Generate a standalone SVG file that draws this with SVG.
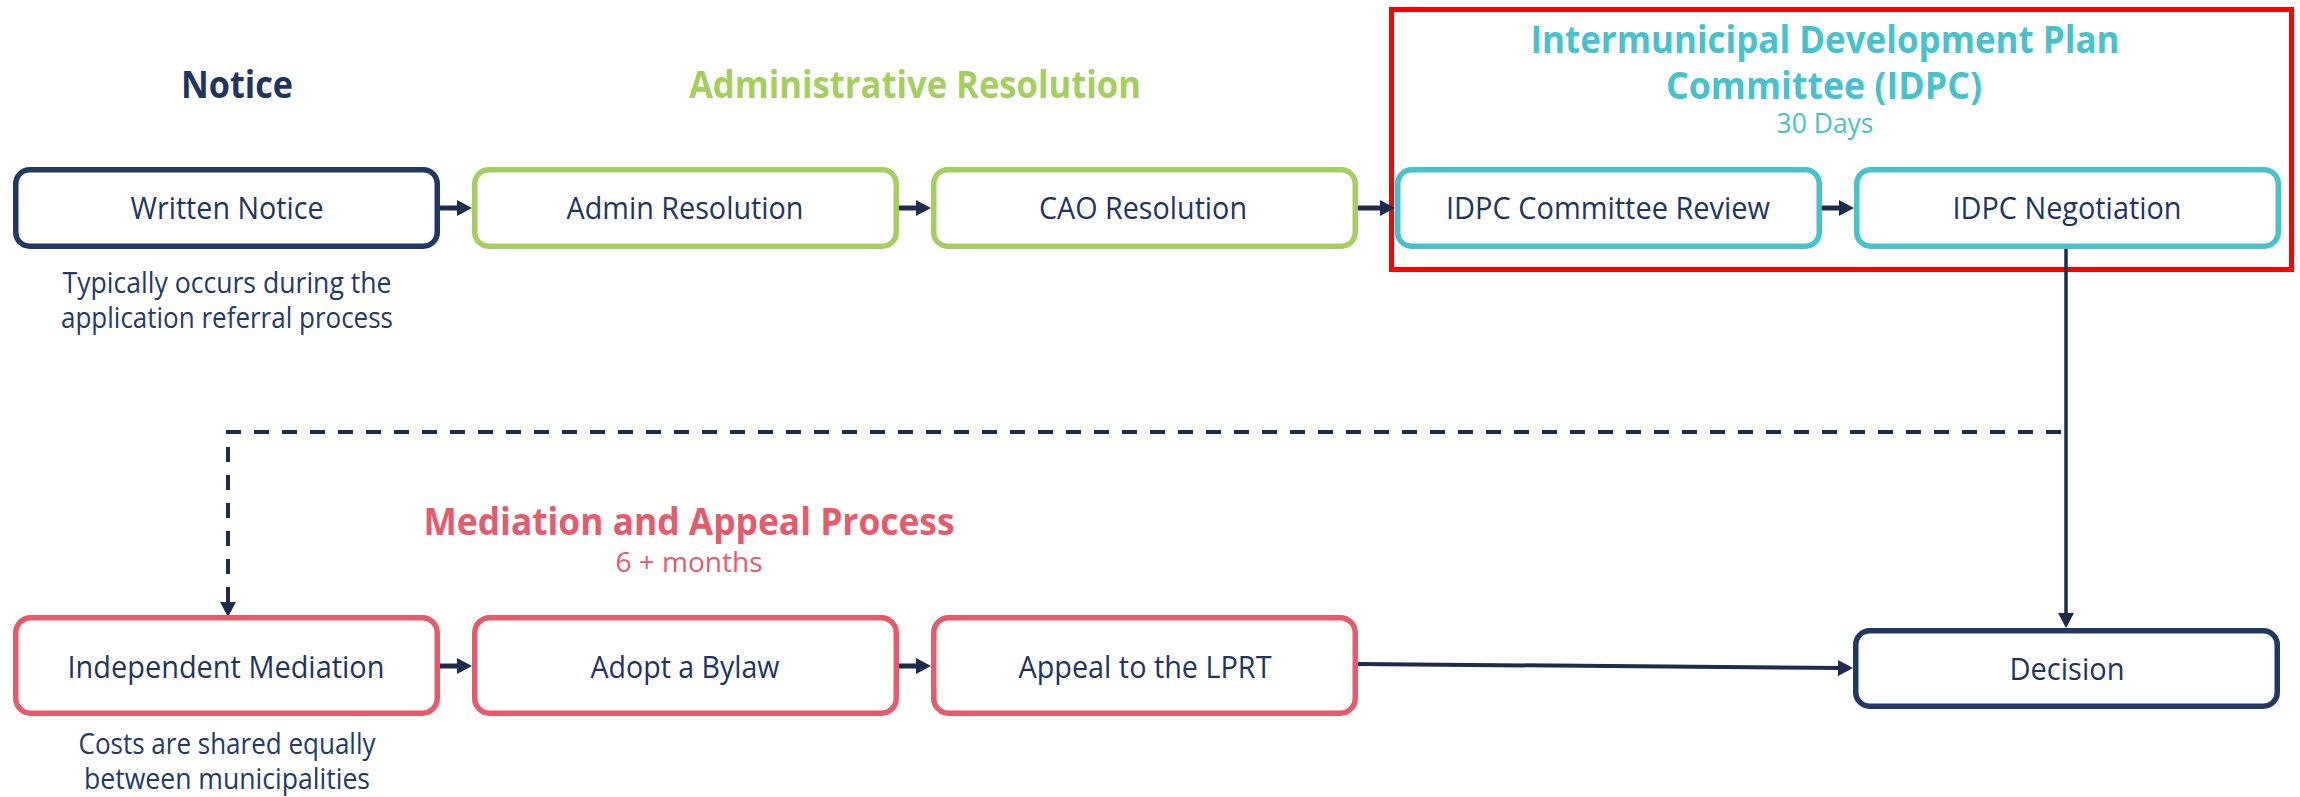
<svg xmlns="http://www.w3.org/2000/svg" width="2300" height="797" viewBox="0 0 2300 797">
<style>
.box{fill:#fff;stroke-width:5.5}
.navy{stroke:#203864}
.green{stroke:#A4CF5F}
.teal{stroke:#46C2CD}
.red{stroke:#E65A6B}
.lbl{font-family:"Open Sans","Liberation Sans",sans-serif;font-size:31px;fill:#1E3462;text-anchor:middle}
.sub{font-family:"Open Sans","Liberation Sans",sans-serif;font-size:29px;fill:#23396A;text-anchor:middle}
.hd{font-family:"Open Sans","Liberation Sans",sans-serif;font-size:37px;font-weight:bold;text-anchor:middle}
.sm{font-family:"Open Sans","Liberation Sans",sans-serif;text-anchor:middle}
.arr{stroke:#1D2B4C;fill:none}
</style>
<defs>
<marker id="ah" markerUnits="userSpaceOnUse" markerWidth="16" markerHeight="16" refX="5" refY="8" orient="auto">
<path d="M0,0 L15,8 L0,16 z" fill="#1D2B4C"/>
</marker>
</defs>

<rect x="1391.5" y="9.5" width="900" height="260" fill="none" stroke="#FF0000" stroke-width="5"/>

<g id="headings">
<text class="hd" x="237" y="98" fill="#1F3560" textLength="112" lengthAdjust="spacingAndGlyphs">Notice</text>
<text class="hd" x="915" y="98" fill="#A4CF5F" textLength="452" lengthAdjust="spacingAndGlyphs">Administrative Resolution</text>
<text class="hd" x="1825" y="53" fill="#46C2CD" textLength="589" lengthAdjust="spacingAndGlyphs">Intermunicipal Development Plan</text>
<text class="hd" x="1824" y="99" fill="#46C2CD" textLength="316" lengthAdjust="spacingAndGlyphs">Committee (IDPC)</text>
<text class="sm" x="1825" y="133" font-size="27" fill="#46C2CD" textLength="97" lengthAdjust="spacingAndGlyphs">30 Days</text>
<text class="hd" x="689" y="535" fill="#E65A6B" textLength="531" lengthAdjust="spacingAndGlyphs">Mediation and Appeal Process</text>
<text class="sm" x="689" y="572" font-size="27" fill="#E65A6B" textLength="147" lengthAdjust="spacingAndGlyphs">6 + months</text>
</g>

<g id="connectors">
<line class="arr" x1="440" y1="208" x2="462" y2="208" stroke-width="5" marker-end="url(#ah)"/>
<line class="arr" x1="899" y1="208" x2="921" y2="208" stroke-width="5" marker-end="url(#ah)"/>
<line class="arr" x1="1358" y1="208" x2="1385" y2="208" stroke-width="5" marker-end="url(#ah)"/>
<line class="arr" x1="1822" y1="208" x2="1844" y2="208" stroke-width="5" marker-end="url(#ah)"/>
<line class="arr" x1="440" y1="666" x2="462" y2="666" stroke-width="5" marker-end="url(#ah)"/>
<line class="arr" x1="899" y1="666" x2="921" y2="666" stroke-width="5" marker-end="url(#ah)"/>
<line class="arr" x1="1358" y1="664" x2="1843" y2="668" stroke-width="4" marker-end="url(#ah)"/>
<line class="arr" x1="2066" y1="249" x2="2066" y2="618" stroke-width="3.5" marker-end="url(#ah)"/>
<path class="arr" d="M2061,432 H228 V607" stroke-width="4" stroke-dasharray="15 13" marker-end="url(#ah)"/>
</g>

<g id="written-notice">
<rect class="box navy" x="15.75" y="169.75" width="421.5" height="76.5" rx="14"/>
<text class="lbl" x="227" y="219" textLength="193" lengthAdjust="spacingAndGlyphs">Written Notice</text>
<text class="sub" x="227" y="293" textLength="329" lengthAdjust="spacingAndGlyphs">Typically occurs during the</text>
<text class="sub" x="227" y="328" textLength="332" lengthAdjust="spacingAndGlyphs">application referral process</text>
</g>
<g id="admin-resolution">
<rect class="box green" x="474.75" y="169.75" width="421.5" height="76.5" rx="14"/>
<text class="lbl" x="685" y="219" textLength="237" lengthAdjust="spacingAndGlyphs">Admin Resolution</text>
</g>
<g id="cao-resolution">
<rect class="box green" x="933.75" y="169.75" width="421.5" height="76.5" rx="14"/>
<text class="lbl" x="1143" y="219" textLength="208" lengthAdjust="spacingAndGlyphs">CAO Resolution</text>
</g>
<g id="idpc-review">
<rect class="box teal" x="1397.75" y="169.75" width="421.5" height="76.5" rx="14"/>
<text class="lbl" x="1608" y="219" textLength="324" lengthAdjust="spacingAndGlyphs">IDPC Committee Review</text>
</g>
<g id="idpc-negotiation">
<rect class="box teal" x="1856.75" y="169.75" width="421.5" height="76.5" rx="14"/>
<text class="lbl" x="2067" y="219" textLength="229" lengthAdjust="spacingAndGlyphs">IDPC Negotiation</text>
</g>

<g id="independent-mediation">
<rect class="box red" x="15.75" y="617.75" width="421.5" height="95.5" rx="15"/>
<text class="lbl" x="226" y="678" textLength="317" lengthAdjust="spacingAndGlyphs">Independent Mediation</text>
<text class="sub" x="227" y="754" textLength="297" lengthAdjust="spacingAndGlyphs">Costs are shared equally</text>
<text class="sub" x="227" y="789" textLength="286" lengthAdjust="spacingAndGlyphs">between municipalities</text>
</g>
<g id="adopt-bylaw">
<rect class="box red" x="474.75" y="617.75" width="421.5" height="95.5" rx="15"/>
<text class="lbl" x="685" y="678" textLength="189" lengthAdjust="spacingAndGlyphs">Adopt a Bylaw</text>
</g>
<g id="appeal-lprt">
<rect class="box red" x="933.75" y="617.75" width="421.5" height="95.5" rx="15"/>
<text class="lbl" x="1145" y="678" textLength="253" lengthAdjust="spacingAndGlyphs">Appeal to the LPRT</text>
</g>
<g id="decision">
<rect class="box navy" x="1855.75" y="630.75" width="421.5" height="75.5" rx="14"/>
<text class="lbl" x="2067" y="680" textLength="115" lengthAdjust="spacingAndGlyphs">Decision</text>
</g>
</svg>
